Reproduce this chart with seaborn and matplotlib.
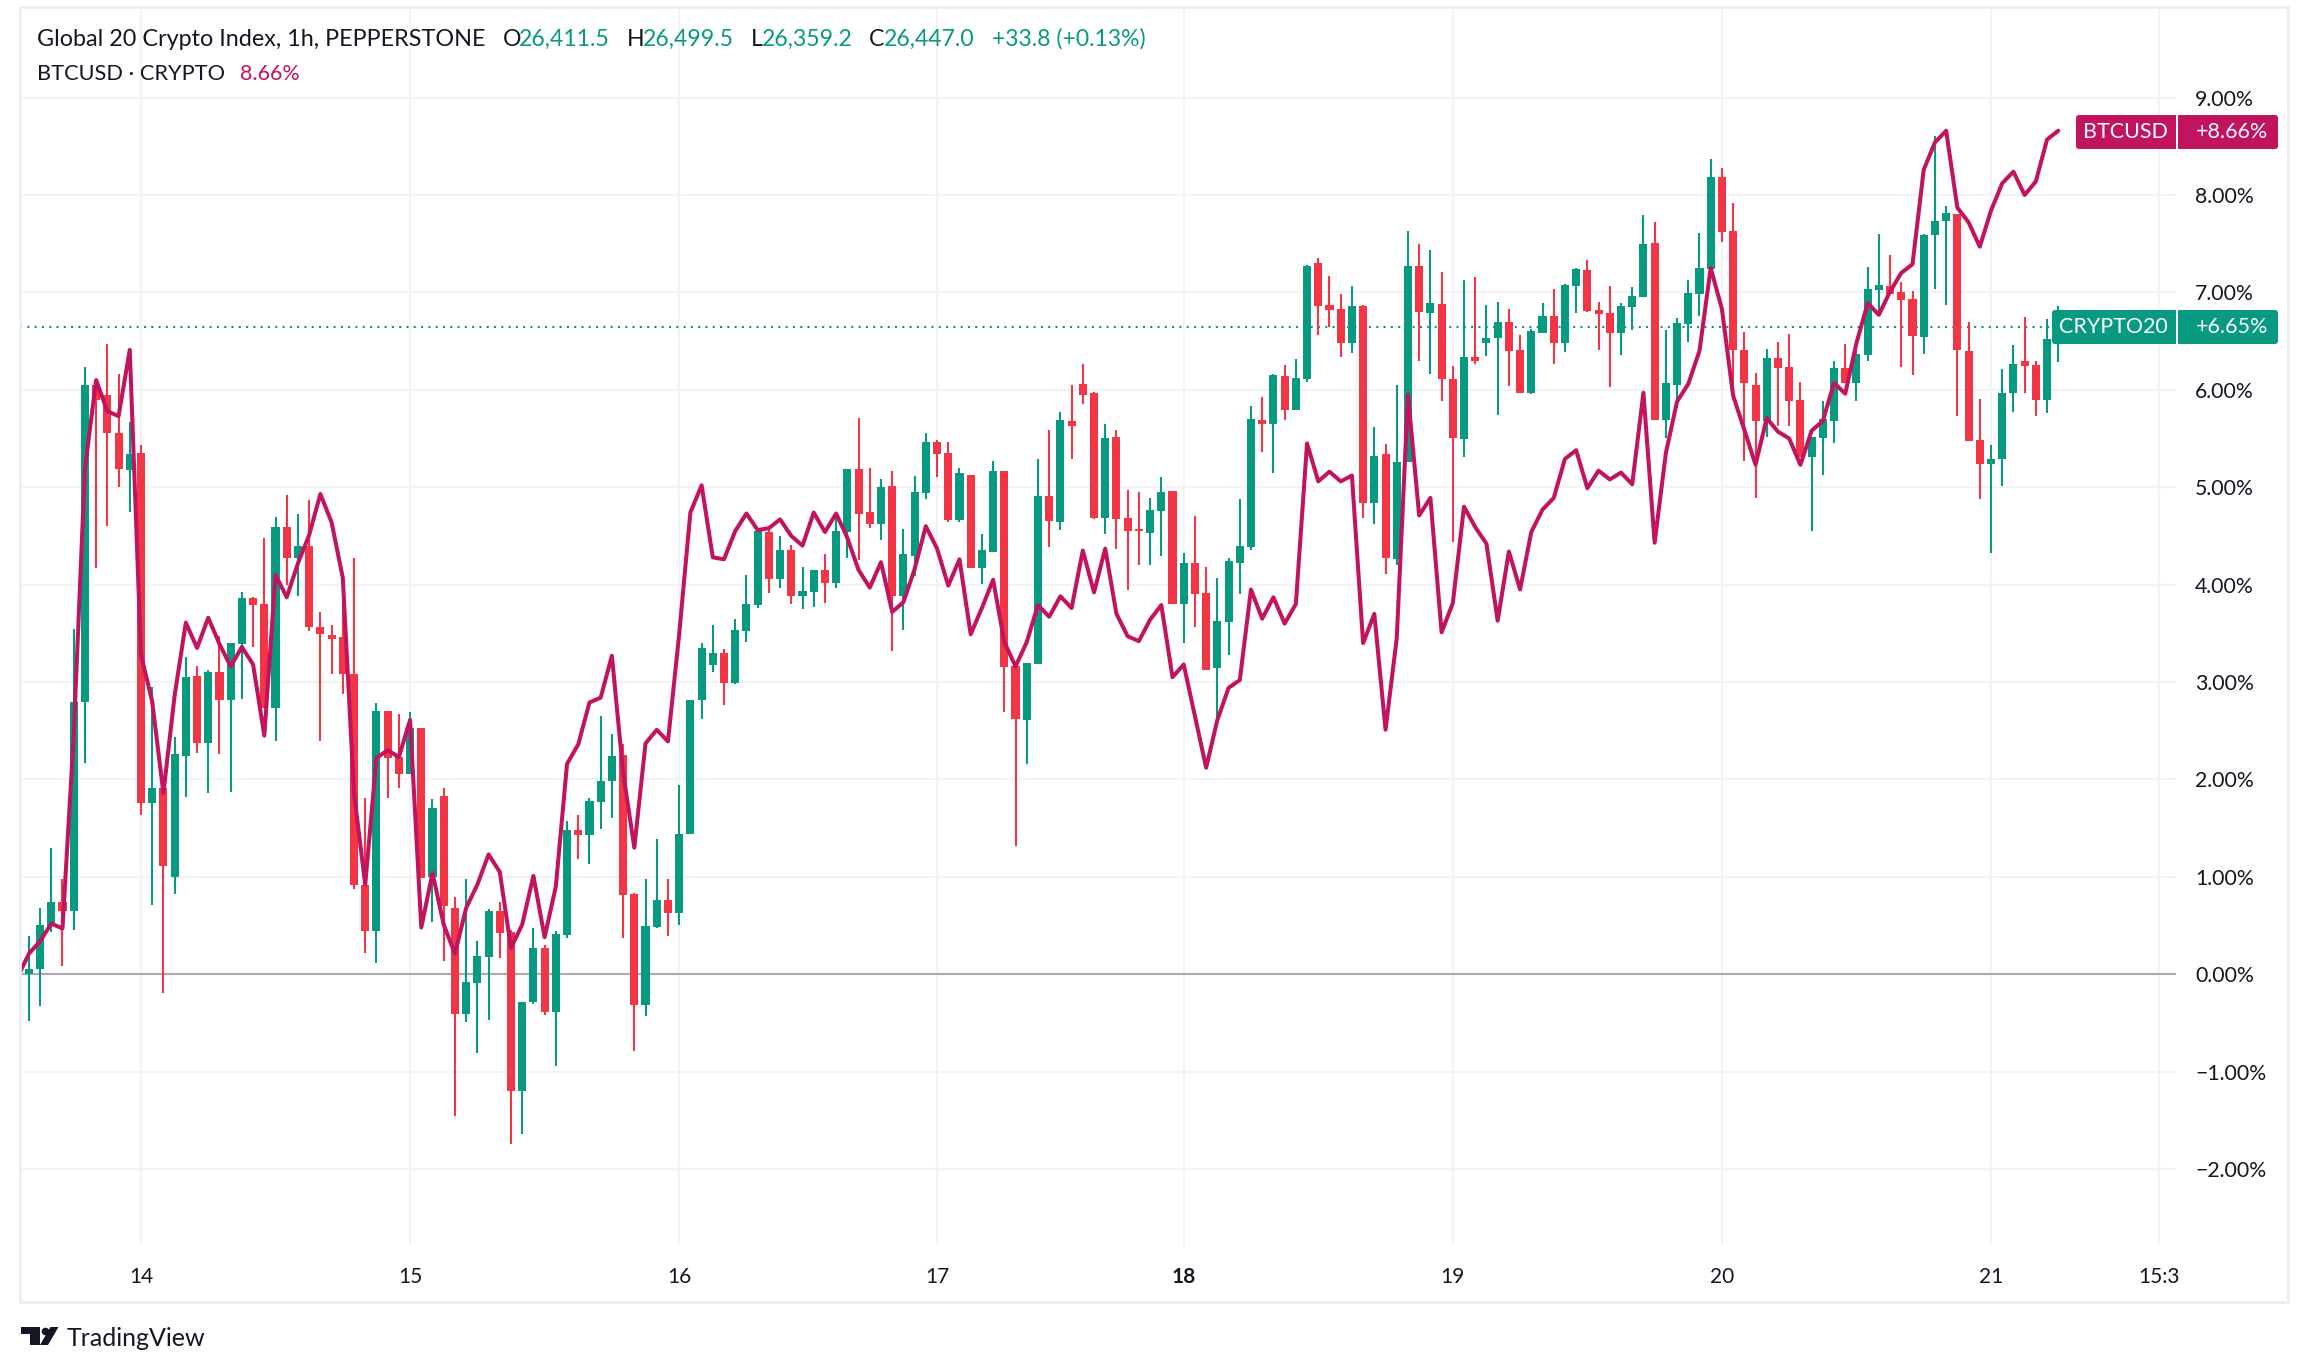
import matplotlib
matplotlib.use('Agg')
import matplotlib.pyplot as plt
from matplotlib.patches import FancyBboxPatch, Polygon, Rectangle
from matplotlib.transforms import IdentityTransform
import numpy as np
import pandas as pd
import seaborn as sns

GREEN = '#089981'
RED = '#F23645'
BTC_COLOR = '#C2135F'
TEXT = '#131722'
GRID = '#F3F3F5'
BORDER = '#EEEEF2'
W, H = 2308, 1372

opens = [
    0.00, 0.05, 0.50, 0.74, 0.65, 2.79, 6.05, 5.95, 5.56, 5.18,
    5.35, 1.76, 1.91, 1.00, 2.24, 3.06, 2.37, 3.10, 2.82, 3.39,
    3.86, 3.80, 2.73, 4.59, 4.27, 4.40, 3.57, 3.48, 3.46, 3.08,
    0.92, 0.44, 2.70, 2.23, 2.06, 2.53, 1.00, 1.83, 0.68, -0.41,
    -0.09, 0.18, 0.65, 0.43, -1.20, -0.29, 0.27, -0.39, 0.40, 1.48,
    1.43, 1.77, 1.98, 2.25, 0.82, -0.32, 0.49, 0.76, 0.63, 1.44,
    2.82, 3.17, 3.30, 2.99, 3.52, 3.79, 4.54, 4.06, 4.36, 3.88,
    3.92, 4.15, 4.02, 4.54, 5.19, 4.75, 4.62, 5.01, 3.88, 4.29,
    4.94, 5.46, 5.35, 4.66, 5.13, 4.17, 4.34, 5.17, 3.16, 2.61,
    3.19, 4.91, 4.64, 5.68, 6.06, 5.97, 4.68, 5.52, 4.68, 4.57,
    4.53, 4.76, 4.96, 3.80, 4.22, 3.91, 3.14, 3.62, 4.22, 4.39,
    5.69, 5.65, 6.14, 5.79, 6.11, 7.30, 6.87, 6.83, 6.48, 6.86,
    4.84, 5.34, 4.26, 5.26, 7.27, 6.79, 6.88, 6.11, 5.49, 6.34,
    6.48, 6.53, 6.70, 6.41, 5.97, 6.58, 6.76, 6.48, 7.07, 7.23,
    6.82, 6.79, 6.58, 6.85, 6.95, 7.51, 5.69, 6.05, 6.68, 6.98,
    7.24, 8.18, 7.63, 6.41, 6.05, 5.68, 6.33, 6.23, 5.90, 5.31,
    5.51, 5.68, 6.22, 6.07, 6.36, 7.02, 7.07, 7.00, 6.93, 6.54,
    7.59, 7.73, 7.81, 6.40, 5.48, 5.24, 5.29, 5.97, 6.30, 6.25,
    5.90, 6.51,
]
closes = [
    0.05, 0.51, 0.74, 0.65, 2.79, 6.05, 5.90, 5.56, 5.19, 5.34,
    1.76, 1.91, 1.11, 2.26, 3.05, 2.37, 3.10, 2.82, 3.40, 3.86,
    3.79, 2.73, 4.59, 4.27, 4.40, 3.57, 3.49, 3.44, 3.08, 0.92,
    0.44, 2.70, 2.22, 2.06, 2.53, 0.99, 1.71, 0.70, -0.41, -0.08,
    0.19, 0.65, 0.42, -1.20, -0.28, 0.27, -0.39, 0.41, 1.48, 1.43,
    1.78, 1.98, 2.24, 0.81, -0.32, 0.50, 0.76, 0.63, 1.44, 2.82,
    3.35, 3.30, 2.99, 3.53, 3.80, 4.55, 4.06, 4.36, 3.88, 3.93,
    4.15, 4.02, 4.55, 5.19, 4.72, 4.62, 5.00, 3.88, 4.31, 4.95,
    5.46, 5.34, 4.66, 5.15, 4.17, 4.36, 5.17, 3.15, 2.62, 3.20,
    4.91, 4.65, 5.69, 5.63, 5.95, 4.68, 5.51, 4.67, 4.55, 4.55,
    4.77, 4.95, 3.80, 4.22, 3.90, 3.12, 3.63, 4.24, 4.40, 5.70,
    5.65, 6.15, 5.79, 6.12, 7.27, 6.86, 6.82, 6.48, 6.86, 4.84,
    5.32, 4.27, 5.26, 7.27, 6.80, 6.89, 6.11, 5.51, 6.34, 6.30,
    6.53, 6.70, 6.40, 5.97, 6.60, 6.76, 6.48, 7.08, 7.24, 6.81,
    6.78, 6.58, 6.86, 6.96, 7.50, 5.69, 6.07, 6.69, 6.99, 7.25,
    8.18, 7.62, 6.41, 6.07, 5.68, 6.33, 6.22, 5.89, 5.31, 5.52,
    5.70, 6.22, 6.07, 6.37, 7.03, 7.08, 6.98, 6.92, 6.55, 7.59,
    7.73, 7.82, 6.41, 5.47, 5.24, 5.29, 5.97, 6.26, 6.24, 5.90,
    6.52, 6.65,
]
highs = [
    0.39, 0.68, 1.30, 0.98, 3.54, 6.23, 6.06, 6.47, 6.16, 5.67,
    5.43, 2.95, 1.98, 2.44, 3.26, 3.16, 3.12, 3.47, 3.40, 3.92,
    3.87, 4.48, 4.69, 4.92, 4.73, 4.87, 3.72, 3.59, 3.84, 4.27,
    1.81, 2.78, 2.70, 2.67, 2.69, 2.53, 1.80, 1.91, 0.79, 0.98,
    0.34, 0.67, 0.74, 0.45, -0.28, 0.47, 0.30, 0.44, 1.57, 1.63,
    1.81, 2.65, 2.47, 2.36, 0.83, 0.98, 1.39, 0.98, 1.94, 2.82,
    3.40, 3.59, 3.34, 3.65, 4.10, 4.58, 4.60, 4.50, 4.41, 4.18,
    4.15, 4.31, 4.70, 5.19, 5.71, 5.20, 5.08, 5.17, 4.57, 5.12,
    5.56, 5.48, 5.46, 5.20, 5.13, 4.52, 5.27, 5.17, 3.16, 3.20,
    5.29, 5.59, 5.77, 6.05, 6.26, 5.98, 5.65, 5.59, 4.97, 4.95,
    4.89, 5.10, 4.96, 4.32, 4.70, 4.18, 4.07, 4.27, 4.88, 5.83,
    5.93, 6.16, 6.25, 6.32, 7.28, 7.35, 7.17, 6.98, 7.07, 6.87,
    5.62, 5.44, 6.05, 7.63, 7.50, 7.44, 7.21, 6.24, 7.13, 7.16,
    6.87, 6.90, 6.83, 6.56, 6.62, 6.89, 7.04, 7.09, 7.25, 7.33,
    6.90, 7.07, 6.89, 7.06, 7.79, 7.72, 6.61, 6.74, 7.13, 7.61,
    8.37, 8.28, 7.92, 6.59, 6.17, 6.42, 6.49, 6.57, 6.08, 5.52,
    5.89, 6.30, 6.47, 6.43, 7.26, 7.60, 7.38, 7.11, 7.01, 7.60,
    8.61, 7.89, 7.81, 6.70, 5.91, 5.43, 6.21, 6.46, 6.75, 6.30,
    6.73, 6.86,
]
lows = [
    -0.48, -0.33, 0.43, 0.08, 0.45, 2.17, 4.17, 4.60, 5.00, 4.75,
    1.63, 0.71, -0.19, 0.82, 1.82, 2.27, 1.86, 2.26, 1.87, 2.83,
    3.36, 2.73, 2.39, 4.00, 3.88, 3.52, 2.39, 3.08, 2.88, 0.88,
    0.22, 0.12, 1.81, 1.91, 2.06, 0.99, 0.54, 0.14, -1.46, -0.49,
    -0.81, -0.47, 0.17, -1.74, -1.64, -0.31, -0.42, -0.94, 0.37, 1.18,
    1.13, 1.49, 1.60, 0.37, -0.79, -0.43, 0.47, 0.39, 0.51, 1.44,
    2.62, 3.10, 2.76, 2.98, 3.41, 3.76, 3.91, 3.97, 3.80, 3.75,
    3.77, 3.81, 3.97, 4.27, 4.25, 4.58, 4.46, 3.32, 3.53, 4.09,
    4.88, 5.11, 4.64, 4.64, 4.17, 4.01, 4.34, 2.69, 1.32, 2.16,
    3.19, 4.39, 4.56, 5.29, 5.85, 4.67, 4.52, 4.37, 3.94, 4.20,
    4.20, 4.29, 3.80, 3.40, 3.56, 3.12, 2.61, 3.28, 3.90, 4.36,
    5.36, 5.15, 5.69, 5.79, 6.08, 6.56, 6.64, 6.34, 6.38, 4.68,
    4.62, 4.11, 4.20, 5.26, 6.30, 6.16, 5.89, 4.44, 5.31, 6.26,
    6.35, 5.74, 6.04, 5.97, 5.96, 6.58, 6.27, 6.39, 6.79, 6.80,
    6.41, 6.03, 6.36, 6.61, 6.95, 5.69, 5.51, 5.81, 6.49, 6.76,
    7.15, 7.52, 5.93, 5.27, 4.89, 5.52, 5.63, 5.63, 5.31, 4.55,
    5.13, 5.45, 6.07, 5.89, 6.30, 6.77, 6.98, 6.23, 6.15, 6.37,
    7.03, 6.87, 5.73, 5.47, 4.88, 4.32, 5.01, 5.77, 5.97, 5.73,
    5.76, 6.29,
]
# first value sits one bar before the first candle, cut off by the pane edge
btc_pct = [
    -0.03, 0.21, 0.34, 0.52, 0.47, 2.45, 5.19, 6.10, 5.78, 5.73, 6.41,
    3.28, 2.80, 1.86, 2.86, 3.61, 3.35, 3.66, 3.39, 3.16, 3.36,
    3.18, 2.45, 4.10, 3.87, 4.22, 4.51, 4.93, 4.64, 4.07, 1.86,
    0.92, 2.22, 2.30, 2.23, 2.61, 0.48, 1.04, 0.51, 0.21, 0.68,
    0.92, 1.23, 1.05, 0.27, 0.51, 1.01, 0.38, 0.90, 2.16, 2.36,
    2.79, 2.84, 3.27, 2.07, 1.30, 2.37, 2.51, 2.39, 3.49, 4.74,
    5.02, 4.28, 4.26, 4.55, 4.73, 4.56, 4.58, 4.67, 4.50, 4.40,
    4.74, 4.54, 4.73, 4.48, 4.15, 3.97, 4.23, 3.72, 3.82, 4.16,
    4.60, 4.37, 3.99, 4.26, 3.49, 3.76, 4.05, 3.41, 3.16, 3.41,
    3.79, 3.67, 3.88, 3.76, 4.35, 3.92, 4.37, 3.70, 3.47, 3.42,
    3.64, 3.79, 3.05, 3.18, 2.65, 2.12, 2.61, 2.94, 3.02, 3.95,
    3.65, 3.87, 3.60, 3.80, 5.45, 5.06, 5.16, 5.06, 5.12, 3.40,
    3.70, 2.51, 3.45, 5.95, 4.71, 4.89, 3.51, 3.81, 4.80, 4.59,
    4.42, 3.63, 4.34, 3.95, 4.54, 4.77, 4.89, 5.29, 5.38, 4.99,
    5.17, 5.08, 5.15, 5.03, 5.97, 4.43, 5.35, 5.88, 6.06, 6.40,
    7.25, 6.83, 5.94, 5.59, 5.23, 5.71, 5.57, 5.50, 5.23, 5.58,
    5.68, 6.07, 5.96, 6.48, 6.89, 6.77, 7.01, 7.20, 7.29, 8.26,
    8.54, 8.66, 7.87, 7.72, 7.47, 7.84, 8.12, 8.24, 8.00, 8.14,
    8.57, 8.66,
]
y_ticks = [-2, -1, 0, 1, 2, 3, 4, 5, 6, 7, 8, 9]
y_labels = ['\u22122.00%', '\u22121.00%', '0.00%', '1.00%', '2.00%', '3.00%', '4.00%', '5.00%',
            '6.00%', '7.00%', '8.00%', '9.00%']
x_ticks = [10, 34, 58, 81, 103, 127, 151, 175, 190]
x_labels = ['14', '15', '16', '17', '18', '19', '20', '21', '15:3']
last_price = 6.65


def fx(px):
    return px / W


def fy(py):
    return 1 - py / H


sns.set_theme(style='white')
plt.rcParams['font.family'] = ['Lato', 'DejaVu Sans']

candles = pd.DataFrame({'open': opens, 'close': closes, 'high': highs, 'low': lows})
candles['x'] = np.arange(len(candles))
candles['color'] = np.where(candles['close'] >= candles['open'], GREEN, RED)
btc = pd.DataFrame({'x': np.arange(-1, len(btc_pct) - 1), 'pct': btc_pct})

fig = plt.figure(figsize=(W / 100, H / 100), dpi=100, facecolor='white')
ax = fig.add_axes([fx(20), fy(1246), fx(2176 - 20), (1246 - 8) / H])

ax.set_xlim(-0.79, 191.5)
ax.set_ylim(-2.79, 9.92)
ax.set_axisbelow(True)
ax.grid(True, color=GRID, linewidth=1.5)
sns.despine(ax=ax, left=True, bottom=True, top=True, right=True)

ax.axhline(0, color='#ABABB3', linewidth=1.5, zorder=1)
ax.axhline(last_price, color=GREEN, linewidth=1.5, linestyle=(0, (1, 2.5)), zorder=1)

# candles: wicks first, bodies on top
ax.vlines(candles['x'], candles['low'], candles['high'], colors=candles['color'], linewidth=1.5, zorder=2)
ax.bar(candles['x'], candles['close'] - candles['open'], bottom=candles['open'], width=0.72,
       color=candles['color'], linewidth=0, zorder=3)

sns.lineplot(data=btc, x='x', y='pct', ax=ax, color=BTC_COLOR, linewidth=2.9, zorder=4, errorbar=None)
ax.set_xlabel('')
ax.set_ylabel('')

ax.yaxis.tick_right()
ax.set_yticks(y_ticks)
ax.set_yticklabels(y_labels, ha='left', color=TEXT, fontsize=15.3)
ax.tick_params(axis='y', length=0, pad=13.7)
ax.set_xticks(x_ticks)
ax.set_xticklabels(x_labels, color=TEXT, fontsize=15)
ax.tick_params(axis='x', length=0, pad=15)
ax.get_xticklabels()[4].set_fontweight('bold')

# pane frame
fig.add_artist(Rectangle((fx(20), fy(1302)), fx(2288 - 20), (1302 - 7) / H, transform=fig.transFigure,
                         fill=False, edgecolor=BORDER, linewidth=2))

# header
fig.text(fx(37), fy(39), 'Global 20 Crypto Index, 1h, PEPPERSTONE', color=TEXT, fontsize=16.8, va='center')
header = [(503, 'O', TEXT), (519, '26,411.5', GREEN), (627, 'H', TEXT), (643, '26,499.5', GREEN),
          (751, 'L', TEXT), (762, '26,359.2', GREEN), (869, 'C', TEXT), (884, '26,447.0', GREEN),
          (992, '+33.8 (+0.13%)', GREEN)]
for px, txt, col in header:
    fig.text(fx(px), fy(39), txt, color=col, fontsize=16.6, va='center')
fig.text(fx(37), fy(74), 'BTCUSD \u00b7 CRYPTO', color=TEXT, fontsize=15.7, va='center')
fig.text(fx(240), fy(74), '8.66%', color=BTC_COLOR, fontsize=15.5, va='center')


def badge(left, right, top, bottom, col, square_side):
    # rounded on the outer side only, the square patch fills the inner corners
    y0 = H - bottom
    height = bottom - top
    fig.add_artist(FancyBboxPatch((left + 3, y0 + 3), right - left - 6, height - 6,
                                  boxstyle='round,pad=3,rounding_size=3', transform=IdentityTransform(),
                                  facecolor=col, edgecolor='none'))
    sq_left = right - 12 if square_side == 'right' else left
    fig.add_artist(Rectangle((sq_left, y0), 12, height, transform=IdentityTransform(),
                             facecolor=col, edgecolor='none'))


# last value badges on the price scale
badges = [(2076, 115, 149, 'BTCUSD', '+8.66%', BTC_COLOR), (2052, 310, 344, 'CRYPTO20', '+6.65%', GREEN)]
for left, top, bottom, name, pct, col in badges:
    badge(left, 2176, top, bottom, col, 'right')
    badge(2178, 2278, top, bottom, col, 'left')
    mid = (top + bottom) / 2
    fig.text(fx(2168), fy(mid), name, color='white', fontsize=15.5, ha='right', va='center')
    fig.text(fx(2268), fy(mid), pct, color='white', fontsize=15.5, ha='right', va='center')

# TradingView mark
logo = [
    Rectangle((fx(20.5), fy(1334)), fx(19.5), 7 / H),
    Rectangle((fx(30), fy(1345)), fx(10), 11 / H),
    Polygon([(fx(50.5), fy(1327)), (fx(58.5), fy(1327)), (fx(48), fy(1345)), (fx(40), fy(1345))]),
]
for patch in logo:
    patch.set_transform(fig.transFigure)
    patch.set_facecolor(TEXT)
    patch.set_edgecolor('none')
    fig.add_artist(patch)
fig.add_artist(plt.Line2D([fx(44.8)], [fy(1330.5)], marker='o', markersize=5.5, color=TEXT,
                          transform=fig.transFigure, markeredgewidth=0))
fig.text(fx(67), fy(1338), 'TradingView', color=TEXT, fontsize=18, va='center')

fig.savefig('out.png', dpi=100)
